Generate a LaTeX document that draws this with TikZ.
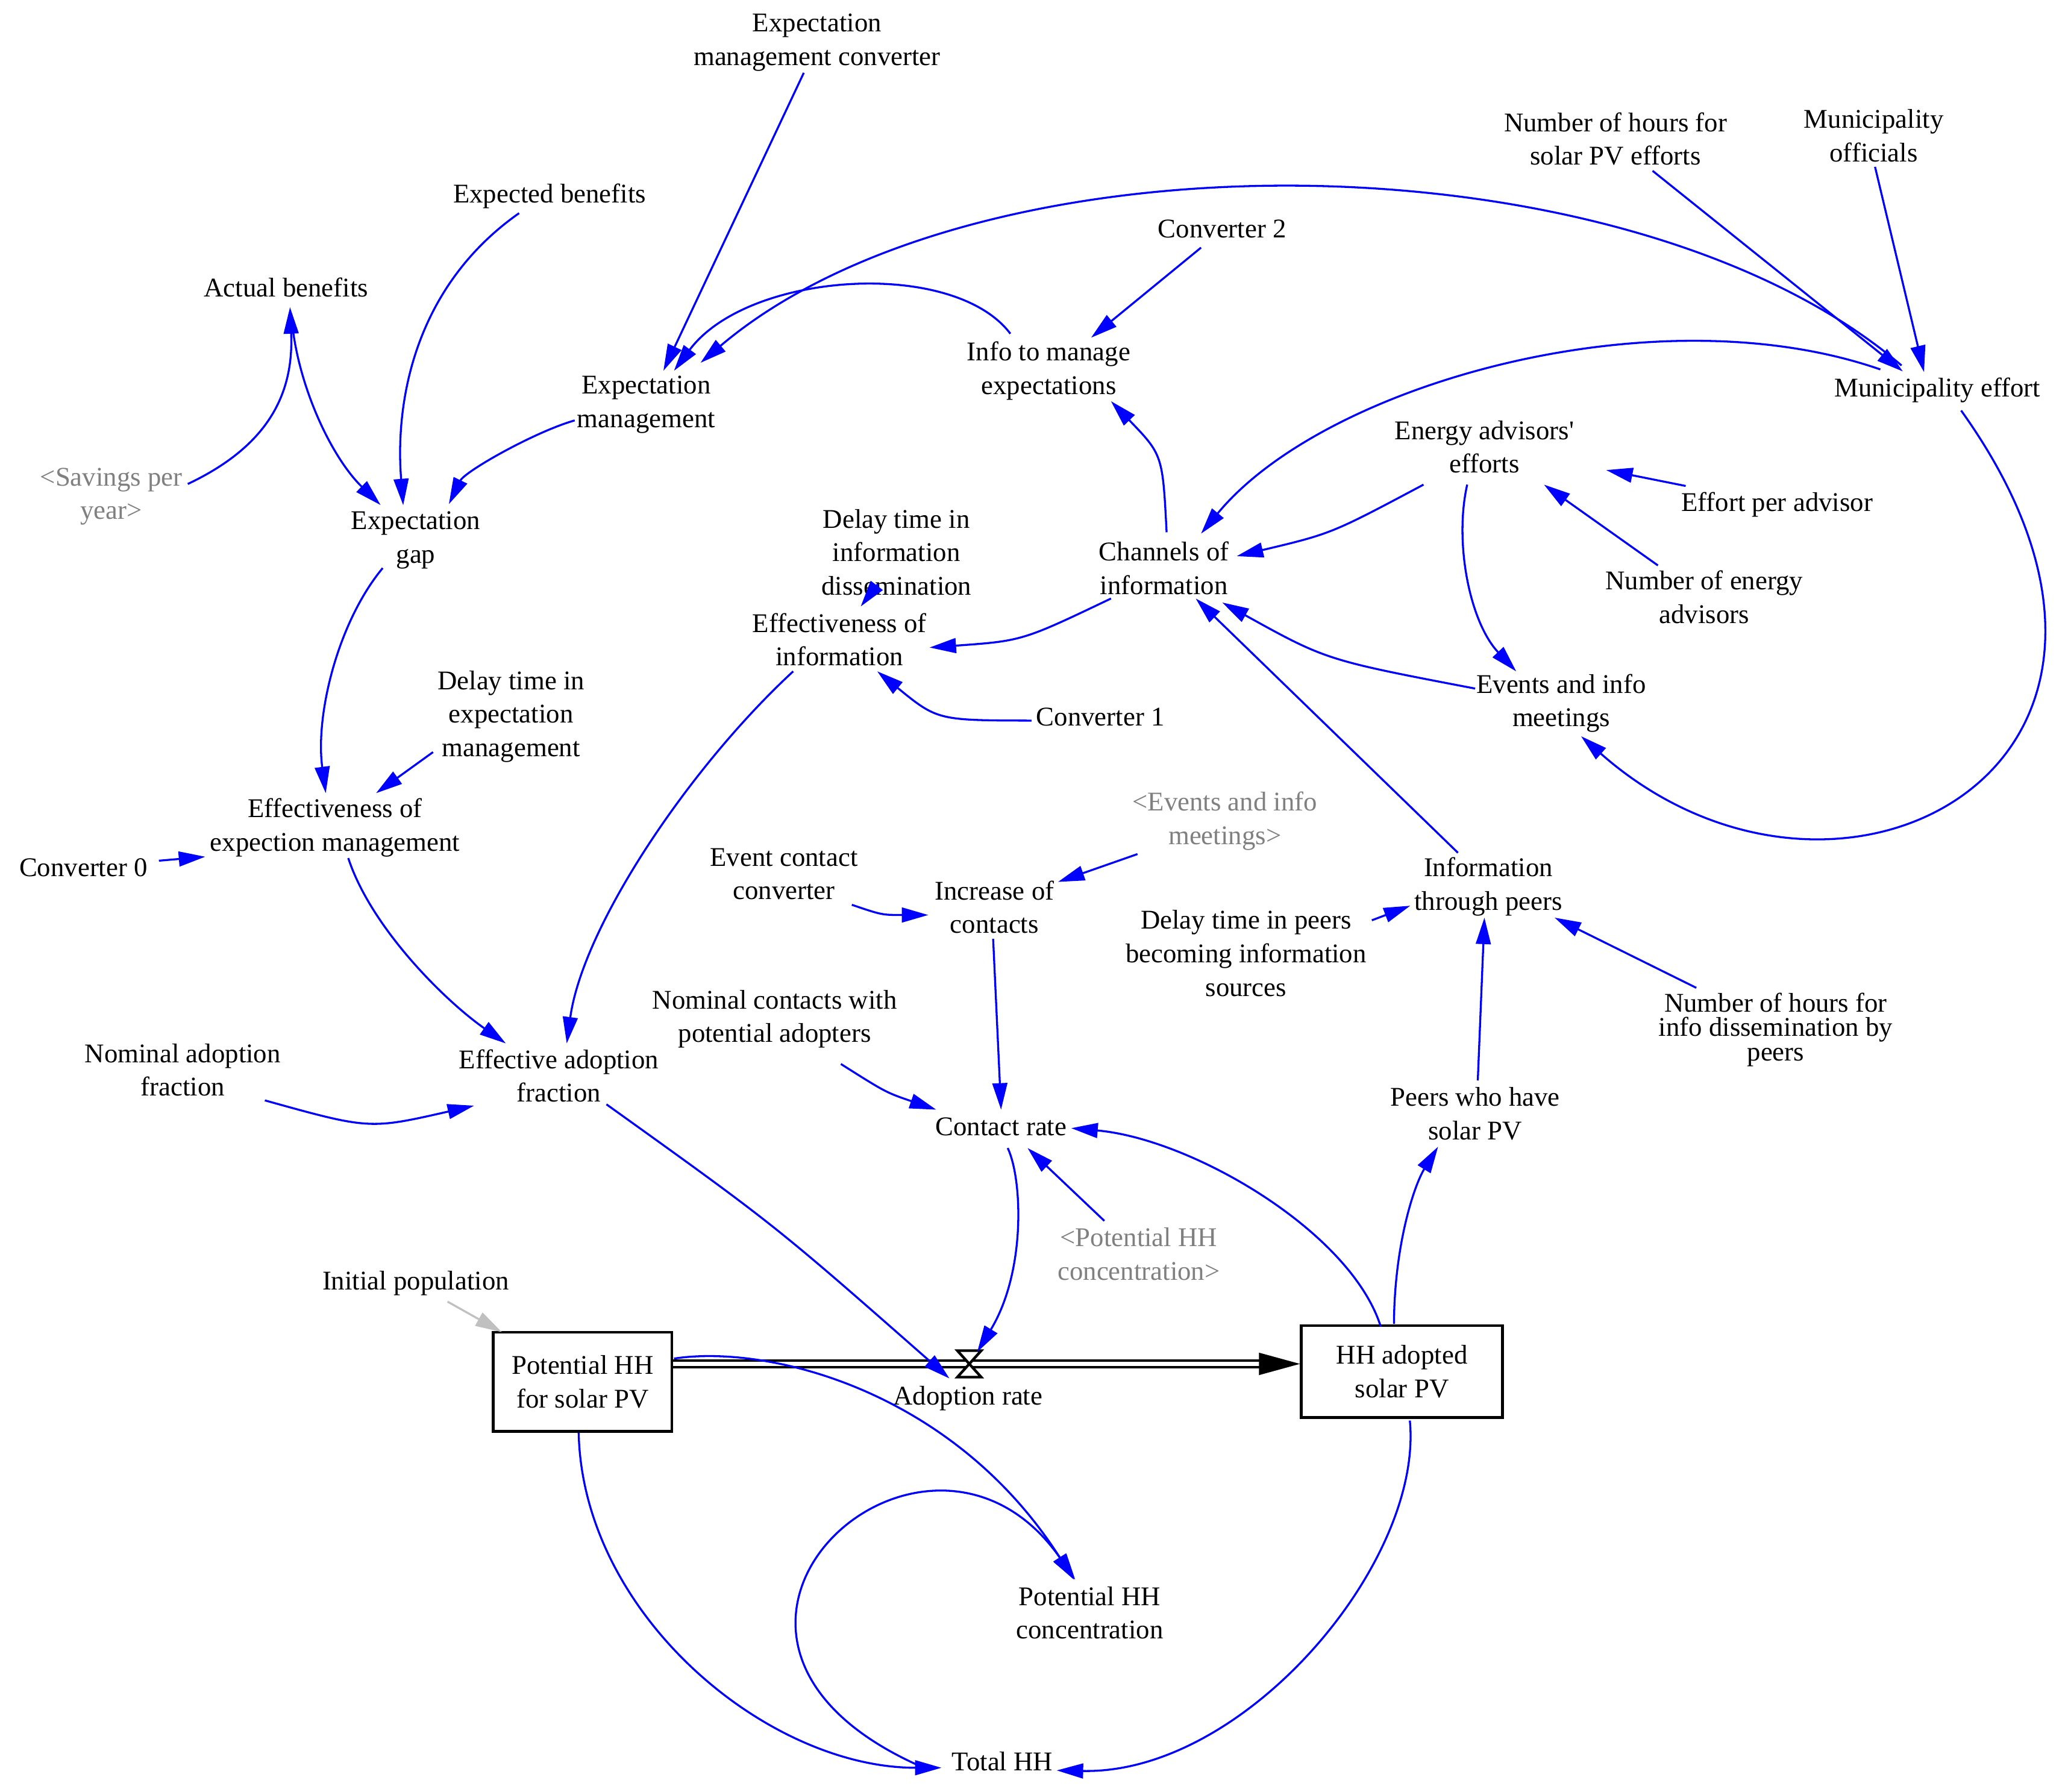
\documentclass[tikz,border=0pt]{standalone}
\usepackage{fontspec}
\setmainfont{Liberation Serif}
\usetikzlibrary{arrows.meta,calc}
\definecolor{linkblue}{RGB}{0,0,255}
\definecolor{shadowgray}{RGB}{128,128,128}
\definecolor{initgray}{RGB}{192,192,192}
\tikzset{
  varnode/.style={font=\fontsize{10.2pt}{12.65pt}\selectfont, align=center, inner sep=0pt},
  tightvar/.style={font=\fontsize{10.2pt}{9.2pt}\selectfont, align=center, inner sep=0pt},
  shadowvar/.style={varnode, text=shadowgray},
  stockbox/.style={varnode, draw, line width=1pt},
  conn/.style={draw=linkblue, line width=0.75pt, -{Triangle[length=10pt,width=5.6pt]}},
  initconn/.style={conn, draw=initgray},
  flowpipe/.style={double, double distance=1.6pt, line width=0.9pt},
}
\begin{document}
\begin{tikzpicture}[x=0.5pt,y=-0.5pt]
\fill[white] (0,0) rectangle (1564,1353.3);
\useasboundingbox (0,0) rectangle (1564,1353.3);

% variables
\node[varnode] (EMC) at (617,32) {Expectation\\management converter};
\node[varnode] (EB) at (415,148) {Expected benefits};
\node[varnode] (AB) at (216,217) {Actual benefits};
\node[shadowvar] (SPY) at (84,375) {\textless Savings per\\year\textgreater};
\node[varnode] (EG) at (314,408) {Expectation\\gap};
\node[varnode] (EM) at (488,305.5) {Expectation\\management};
\node[varnode] (IME) at (792,280) {Info to manage\\expectations};
\node[varnode] (C2) at (923,172.7) {Converter 2};
\node[varnode] (NHS) at (1220,105) {Number of hours for\\solar PV efforts};
\node[varnode] (MO) at (1415,102.5) {Municipality\\officials};
\node[varnode] (ME) at (1463,294.5) {Municipality effort};
\node[varnode] (EAE) at (1121,337.5) {Energy advisors\textquotesingle\\efforts};
\node[varnode] (EPA) at (1342,381) {Effort per advisor};
\node[varnode] (NEA) at (1287,451) {Number of energy\\advisors};
\node[varnode] (CI) at (879,429) {Channels of\\information};
\node[varnode] (DTID) at (677,417) {Delay time in\\information\\dissemination};
\node[varnode] (EOI) at (634,483) {Effectiveness of\\information};
\node[varnode] (C1) at (831,541.5) {Converter 1};
\node[varnode] (EIM) at (1179,531) {Events and info\\meetings};
\node[varnode] (DTEM) at (386,541) {Delay time in\\expectation\\management};
\node[varnode] (EEM) at (253,625) {Effectiveness of\\expection management};
\node[varnode] (C0) at (63,655) {Converter 0};
\node[shadowvar] (GEIM) at (925,620) {\textless Events and info\\meetings\textgreater};
\node[varnode] (ECC) at (592,660) {Event contact\\converter};
\node[varnode] (IOC) at (751,685) {Increase of\\contacts};
\node[varnode] (ITP) at (1124,669.5) {Information\\through peers};
\node[varnode] (DTP) at (941,720) {Delay time in peers\\becoming information\\sources};
\node[tightvar] (NHP) at (1341,777.5) {Number of hours for\\info dissemination by\\peers};
\node[varnode] (NCPA) at (585,769.5) {Nominal contacts with\\potential adopters};
\node[varnode] (NAF) at (138,808) {Nominal adoption\\fraction};
\node[varnode] (EAF) at (422,812.5) {Effective adoption\\fraction};
\node[varnode] (CR) at (756,851) {Contact rate};
\node[varnode] (PSP) at (1114,841) {Peers who have\\solar PV};
\node[shadowvar] (GPHC) at (860,947) {\textless Potential HH\\concentration\textgreater};
\node[varnode] (IP) at (314,969) {Initial population};
\node[stockbox, minimum width=67.5pt, minimum height=37.5pt] (PHH) at (440,1043.5) {Potential HH\\for solar PV};
\node[stockbox, minimum width=76pt, minimum height=34.75pt] (HHA) at (1058.7,1035.8) {HH adopted\\solar PV};
\coordinate (valve) at (732,1030);
\node[varnode] (AR) at (731,1056) {Adoption rate};
\node[varnode] (PHC) at (823,1218) {Potential HH\\concentration};
\node[varnode] (THH) at (757,1330) {Total HH};

% flow
\draw[flowpipe] (valve -| PHH.east) -- ($(valve -| HHA.west)+(-30,0)$);
\fill ($(valve -| HHA.west)$) -- ++(-31,-8.5) -- ++(0,17) -- cycle;
\draw[line width=1pt, fill=white] ($(valve)+(-9,-10)$) -- ++(18,0) -- ++(-18,20) -- ++(18,0) -- cycle;

% links
\draw[conn] ([shift={(-10,23)}]EMC.center) -- ([shift={(13,-25.5)}]EM.center);
\draw[conn] ([shift={(-23,13)}]EB.center) .. controls (315,215) and (298,300) .. ([shift={(-9.5,-26.4)}]EG.center);
\draw[conn] ([shift={(57.8,-9.5)}]SPY.center) .. controls (200,338) and (222,300) .. ([shift={(3,15)}]AB.center);
\draw[conn] ([shift={(4,21)}]AB.center) .. controls (224,290) and (250,345) .. ([shift={(-26.6,-26.6)}]EG.center);
\draw[conn] ([shift={(-54,12)}]EM.center) .. controls (404,326) and (351,356) .. ([shift={(25,-27.3)}]EG.center);
\draw[conn] ([shift={(-29,-28)}]IME.center) .. controls (720,195) and (565,205) .. ([shift={(21,-25.5)}]EM.center);
\draw[conn] ([shift={(-27,-18.5)}]ME.center) .. controls (1230,100) and (740,95) .. ([shift={(41,-31.5)}]EM.center);
\draw[conn] ([shift={(-16,14.3)}]C2.center) -- ([shift={(32,-25)}]IME.center);
\draw[conn] ([shift={(28,24)}]NHS.center) -- ([shift={(-26,-14)}]ME.center);
\draw[conn] ([shift={(1,23.5)}]MO.center) -- ([shift={(-10,-13.5)}]ME.center);
\draw[conn] ([shift={(-43,-15.5)}]ME.center) .. controls (1250,220) and (1000,290) .. ([shift={(28,-26)}]CI.center);
\draw[conn] ([shift={(2,-27)}]CI.center) .. controls (878,343.5) .. ([shift={(47,23)}]IME.center);
\draw[conn] ([shift={(-46,28.5)}]EAE.center) .. controls (1005.5,403) .. ([shift={(55,-9)}]CI.center);
\draw[conn] ([shift={(-69,-14)}]EPA.center) -- ([shift={(92,17.5)}]EAE.center);
\draw[conn] ([shift={(-35,-24)}]NEA.center) -- ([shift={(45,28.5)}]EAE.center);
\draw[conn] ([shift={(-13,28.5)}]EAE.center) .. controls (1098,410) and (1110,470) .. ([shift={(-34,-24)}]EIM.center);
\draw[conn] ([shift={(-65,-11)}]EIM.center) .. controls (1001.5,498.5) .. ([shift={(44,26)}]CI.center);
\draw[conn] ([shift={(-23,-25.5)}]ITP.center) -- ([shift={(24,23)}]CI.center);
\draw[conn] ([shift={(18,15.5)}]ME.center) .. controls (1672,577) and (1389,728) .. ([shift={(15,25)}]EIM.center);
\draw[conn] ([shift={(-14,24)}]DTID.center) -- ([shift={(16,-25)}]EOI.center);
\draw[conn] ([shift={(-40,23)}]CI.center) .. controls (772,484) .. ([shift={(68,6)}]EOI.center);
\draw[conn] ([shift={(-52,2.7)}]C1.center) .. controls (708,544) .. ([shift={(28.5,24)}]EOI.center);
\draw[conn] ([shift={(-35,24)}]EOI.center) .. controls (520,580) and (440,700) .. ([shift={(6,-24.5)}]EAF.center);
\draw[conn] ([shift={(-25,21)}]EG.center) .. controls (255,470) and (238,540) .. ([shift={(-7,-26)}]EEM.center);
\draw[conn] ([shift={(-59,27)}]DTEM.center) -- ([shift={(31,-26)}]EEM.center);
\draw[conn] ([shift={(57,-5)}]C0.center) -- ([shift={(-98,22)}]EEM.center);
\draw[conn] ([shift={(10,23)}]EEM.center) .. controls (280,700) and (335,755) .. ([shift={(-40,-24.5)}]EAF.center);
\draw[conn] ([shift={(62,23)}]NAF.center) .. controls (279,853) .. ([shift={(-64,22.5)}]EAF.center);
\draw[conn] ([shift={(36,21.5)}]EAF.center) .. controls (585,925) .. ([shift={(-15,11)}]valve);
\draw[conn] ([shift={(51.3,23.3)}]ECC.center) .. controls (666,691) .. ([shift={(-50,6)}]IOC.center);
\draw[conn] ([shift={(-66,25)}]GEIM.center) -- ([shift={(48,-19)}]IOC.center);
\draw[conn] ([shift={(-1,24)}]IOC.center) -- ([shift={(0,-13)}]CR.center);
\draw[conn] ([shift={(50,34)}]NCPA.center) .. controls (669,825) .. ([shift={(-49,-13)}]CR.center);
\draw[conn] ([shift={(-16,-34)}]HHA.center) .. controls (1020,930) and (900,860) .. ([shift={(53,1)}]CR.center);
\draw[conn] ([shift={(-26,-25)}]GPHC.center) -- ([shift={(20,16)}]CR.center);
\draw[conn] ([shift={(5,16)}]CR.center) .. controls (772,890) and (775,960) .. ([shift={(6,-9)}]valve);
\draw[conn] ([shift={(-6,-36)}]HHA.center) .. controls (1053,940) and (1068,895) .. ([shift={(-28,25)}]PSP.center);
\draw[conn] ([shift={(2,-25)}]PSP.center) -- ([shift={(-3,23.5)}]ITP.center);
\draw[conn] ([shift={(95,-25)}]DTP.center) -- ([shift={(-59,14.5)}]ITP.center);
\draw[conn] ([shift={(-60,-31.5)}]NHP.center) -- ([shift={(50,23.5)}]ITP.center);
\draw[initconn] ([shift={(24,14)}]IP.center) -- ([shift={(-61,-37.5)}]PHH.center);
\draw[conn] ([shift={(69,-17.5)}]PHH.center) .. controls (580,1015) and (720,1050) .. ([shift={(-12,-25)}]PHC.center);
\draw[conn] ([shift={(-57,6)}]THH.center) .. controls (470,1238.5) and (698,1029) .. ([shift={(-11,-25)}]PHC.center);
\draw[conn] ([shift={(-3,38.5)}]PHH.center) .. controls (440,1220) and (580,1335) .. ([shift={(-46,5)}]THH.center);
\draw[conn] ([shift={(6,37)}]HHA.center) .. controls (1075,1180) and (940,1340) .. ([shift={(41,7)}]THH.center);
\end{tikzpicture}
\end{document}
